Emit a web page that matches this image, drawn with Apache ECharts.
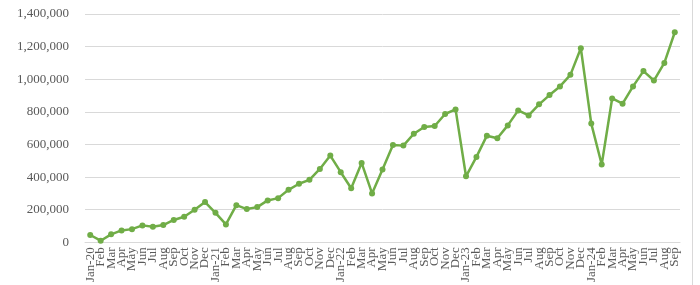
<!DOCTYPE html>
<html><head><meta charset="utf-8">
<script src="https://cdn.jsdelivr.net/npm/echarts@6/dist/echarts.min.js"></script>
<style>html,body{margin:0;padding:0;background:#fff}#c{width:700px;height:285px}</style>
</head><body><div id="c"></div>
<script>
const categories = ["Jan-20","Feb","Mar","Apr","May","Jun","Jul","Aug","Sep","Oct","Nov","Dec",
"Jan-21","Feb","Mar","Apr","May","Jun","Jul","Aug","Sep","Oct","Nov","Dec",
"Jan-22","Feb","Mar","Apr","May","Jun","Jul","Aug","Sep","Oct","Nov","Dec",
"Jan-23","Feb","Mar","Apr","May","Jun","Jul","Aug","Sep","Oct","Nov","Dec",
"Jan-24","Feb","Mar","Apr","May","Jun","Jul","Aug","Sep"];
const values = [45000,10000,49000,73000,81000,104000,96000,106000,137000,157000,200000,247000,
181000,110000,228000,204000,216000,257000,271000,322000,359000,383000,450000,532000,
430000,332000,487000,300000,446000,597000,593000,666000,707000,713000,787000,815000,
405000,524000,654000,638000,717000,809000,778000,846000,903000,956000,1027000,1190000,
728000,477000,882000,850000,956000,1050000,992000,1100000,1288000];
const yTicks = [0,200000,400000,600000,800000,1000000,1200000,1400000];

const chart = echarts.init(document.getElementById('c'));
chart.setOption({
  animation:false,
  grid:{left:85,right:20,top:14,bottom:42,containLabel:false},
  xAxis:{type:'category',data:categories,boundaryGap:true,
    axisLine:{lineStyle:{color:'#d9d9d9'}},axisTick:{show:false},
    axisLabel:{interval:0,rotate:90,fontFamily:'Liberation Serif',fontSize:13,color:'#595959',margin:5}},
  yAxis:{type:'value',min:yTicks[0],max:yTicks[yTicks.length-1],interval:200000,
    axisLine:{show:false},axisTick:{show:false},
    splitLine:{lineStyle:{color:'#d9d9d9'}},
    axisLabel:{fontFamily:'Liberation Serif',fontSize:13,color:'#595959',margin:16,
      formatter:v=>v.toLocaleString('en-US')}},
  series:[{type:'line',data:values,symbol:'circle',symbolSize:6,
    lineStyle:{color:'#70AD47',width:2.5},itemStyle:{color:'#70AD47'}}],
  graphic:[{type:'line',shape:{x1:692.5,y1:0,x2:692.5,y2:285},style:{stroke:'#d9d9d9',lineWidth:1}}]
});
</script></body></html>
